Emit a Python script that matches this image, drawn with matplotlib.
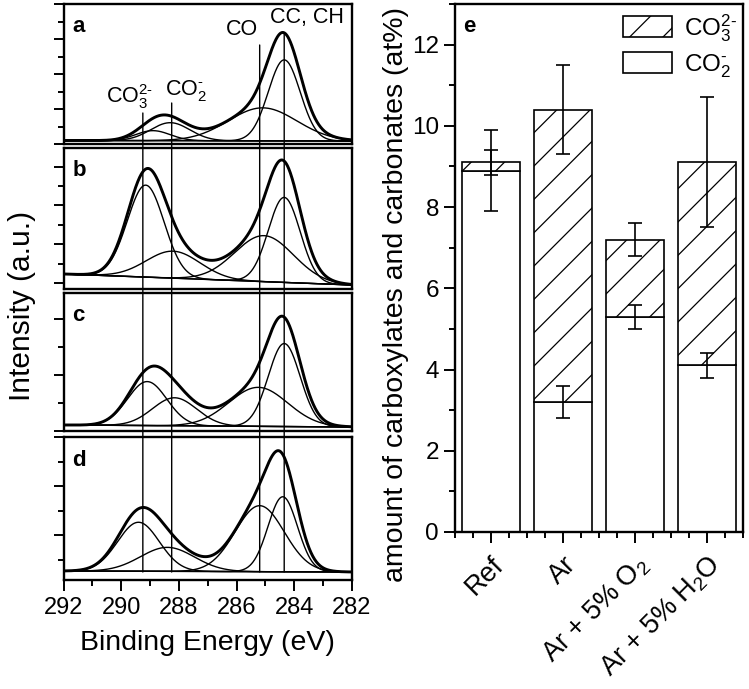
import numpy as np
import matplotlib
matplotlib.use("Agg")
import matplotlib.pyplot as plt
import matplotlib.transforms as mtransforms
from matplotlib.patches import ConnectionPatch, Patch
from matplotlib.ticker import MultipleLocator

plt.rcParams["font.family"] = ["Liberation Sans", "DejaVu Sans"]
plt.rcParams["mathtext.fontset"] = "custom"
plt.rcParams["mathtext.rm"] = "Liberation Sans"
plt.rcParams["mathtext.it"] = "Liberation Sans:italic"
plt.rcParams["mathtext.bf"] = "Liberation Sans:bold"
plt.rcParams["hatch.linewidth"] = 0.9

# C1s peak fits, panels a-d. Components: CO3(2-), CO2(-), CO, CC/CH
panel_letters = ["a", "b", "c", "d"]
centers = [
    [288.9, 288.3, 285.1, 284.35],
    [289.15, 288.2, 285.05, 284.35],
    [289.1, 288.15, 285.25, 284.35],
    [289.4, 288.4, 285.2, 284.4],
]
heights = [
    [10, 18, 33, 81],
    [92, 27, 46, 85],
    [44, 28, 39, 83],
    [49, 24, 66, 75],
]
fwhms = [
    [1.4, 1.6, 2.8, 1.3],
    [1.5, 2.2, 2.4, 1.3],
    [1.6, 1.8, 2.4, 1.3],
    [1.7, 2.2, 2.0, 1.2],
]
baseline_292 = [3.5, 15, 6, 9]
baseline_282 = [3, 4, 4, 8]
panel_top = [140, 141, 138, 143]
reference_energies = [289.25, 288.25, 285.2, 284.35]
reference_tops = [31, 41, 99, 111]

# panel e: carboxylates / carbonates (at%)
samples = ["Ref", "Ar", "Ar + 5% O$_2$", "Ar + 5% H$_2$O"]
carboxylates = [8.9, 3.2, 5.3, 4.1]
carboxylates_err = [1.0, 0.4, 0.3, 0.3]
carbonates = [0.2, 7.2, 1.9, 5.0]
total_err = [0.3, 1.1, 0.4, 1.6]

CO3 = "CO$_3^{2\u2010}$"
CO2 = "CO$_2^{\u2010}$"

W, H = 749, 689
fig = plt.figure(figsize=(W / 100, H / 100), dpi=100)


def rect(x0, y0, x1, y1):
    # pixel box (top-left origin) -> figure fraction
    return [x0 / W, 1 - y1 / H, (x1 - x0) / W, (y1 - y0) / H]


panel_px = [(4, 144), (148, 289), (293, 431), (437, 580)]
tick_steps = [(35, 17.5, 0), (38.8, 19.4, 6), (56, 28, 0), (49, 24.5, 45)]

energy = np.linspace(292, 282, 801)
axes = []
for i, (y0, y1) in enumerate(panel_px):
    ax = fig.add_axes(rect(63.5, y0, 352, y1))
    axes.append(ax)
    base = np.interp(energy, [282, 292], [baseline_282[i], baseline_292[i]])
    total = np.zeros_like(energy)
    for c, h, w in zip(centers[i], heights[i], fwhms[i]):
        peak = h * np.exp(-4 * np.log(2) * (energy - c) ** 2 / w ** 2)
        total += peak
        ax.plot(energy, base + peak, color="black", lw=1.0)
    ax.plot([292, 282], [baseline_292[i], baseline_282[i]], color="black", lw=1.0)
    ax.plot(energy, base + total, color="black", lw=2.1)

    ax.set_xlim(292, 282)
    ax.set_ylim(0, panel_top[i])
    maj, mnr, off = tick_steps[i]
    ax.yaxis.set_major_locator(MultipleLocator(maj, offset=off))
    ax.yaxis.set_minor_locator(MultipleLocator(mnr, offset=off))
    ax.tick_params(axis="y", which="major", direction="out", length=7, width=1.4, labelleft=False)
    ax.tick_params(axis="y", which="minor", direction="out", length=4, width=1.4)
    for s in ax.spines.values():
        s.set_linewidth(1.7)
    ax.text(0.03, 0.80, panel_letters[i], transform=ax.transAxes,
            fontsize=16, fontweight="bold", va="baseline")
    if i < 3:
        ax.tick_params(axis="x", which="both", bottom=False, labelbottom=False)

ax_d = axes[-1]
ax_d.xaxis.set_major_locator(MultipleLocator(2))
ax_d.xaxis.set_minor_locator(MultipleLocator(1))
ax_d.tick_params(axis="x", which="major", direction="out", length=8, width=1.4,
                 labelsize=17, pad=4)
ax_d.tick_params(axis="x", which="minor", direction="out", length=4, width=1.4)
ax_d.set_xlabel("Binding Energy (eV)", fontsize=20.5, labelpad=8)

# reference energies running through all four spectra
for e, top in zip(reference_energies, reference_tops):
    con = ConnectionPatch(xyA=(e, top), coordsA=axes[0].transData,
                          xyB=(e, baseline_282[3]), coordsB=ax_d.transData,
                          color="black", lw=1.0)
    fig.add_artist(con)

ax_a = axes[0]
ax_a.text(289.7, 41, CO3, fontsize=15.5, ha="center", va="baseline")
ax_a.text(287.75, 49, CO2, fontsize=15.5, ha="center", va="baseline")
ax_a.text(285.8, 109, "CO", fontsize=15.5, ha="center", va="baseline")
ax_a.text(283.55, 121, "CC, CH", fontsize=15.5, ha="center", va="baseline")

fig.text(22 / W, 1 - 306 / H, "Intensity (a.u.)", rotation=90, fontsize=21.5,
         ha="center", va="center")

# bar chart
ax_e = fig.add_axes(rect(455, 4, 743, 532))
x = np.arange(1, len(samples) + 1)
bottoms = np.array(carboxylates)
tops = bottoms + np.array(carbonates)
ax_e.bar(x, carboxylates, 0.8, color="white", edgecolor="black", linewidth=1.2, zorder=2)
ax_e.bar(x, carbonates, 0.8, bottom=carboxylates, color="white", edgecolor="black",
         hatch="/", linewidth=1.2, zorder=2)
ax_e.errorbar(x, bottoms, yerr=carboxylates_err, fmt="none", ecolor="black",
              elinewidth=1.2, capsize=5, capthick=1.2, zorder=3)
ax_e.errorbar(x, tops, yerr=total_err, fmt="none", ecolor="black",
              elinewidth=1.2, capsize=5, capthick=1.2, zorder=3)

ax_e.set_xlim(0.5, 4.5)
ax_e.set_ylim(0, 13)
ax_e.yaxis.set_major_locator(MultipleLocator(2))
ax_e.yaxis.set_minor_locator(MultipleLocator(1))
ax_e.xaxis.set_minor_locator(MultipleLocator(0.25))
ax_e.set_xticks(x)
ax_e.set_xticklabels(samples, rotation=45, ha="right", rotation_mode="anchor",
                     fontsize=19.5)
shift = mtransforms.ScaledTranslation(5 / 100, 0, fig.dpi_scale_trans)
for lbl in ax_e.get_xticklabels():
    lbl.set_transform(lbl.get_transform() + shift)
ax_e.tick_params(axis="both", which="major", direction="out", length=8, width=1.4)
ax_e.tick_params(axis="y", which="major", labelsize=17.5)
ax_e.tick_params(axis="x", which="major", pad=6)
ax_e.tick_params(axis="both", which="minor", direction="out", length=4, width=1.4)
for s in ax_e.spines.values():
    s.set_linewidth(1.7)
ax_e.text(0.028, 0.947, "e", transform=ax_e.transAxes, fontsize=16,
          fontweight="bold", va="baseline")

handles = [
    Patch(facecolor="white", edgecolor="black", hatch="/", linewidth=1.2),
    Patch(facecolor="white", edgecolor="black", linewidth=1.2),
]
ax_e.legend(handles, [CO3, CO2], loc="upper left", bbox_to_anchor=(0.583, 0.985),
            frameon=False, fontsize=17.5, handlelength=2.0, handleheight=0.95,
            labelspacing=0.35, borderaxespad=0, borderpad=0, handletextpad=0.5)

fig.text(396 / W, 1 - 295 / H, "amount of carboxylates and carbonates (at%)",
         rotation=90, fontsize=20.5, ha="center", va="center")

fig.savefig("out.png", dpi=100)
